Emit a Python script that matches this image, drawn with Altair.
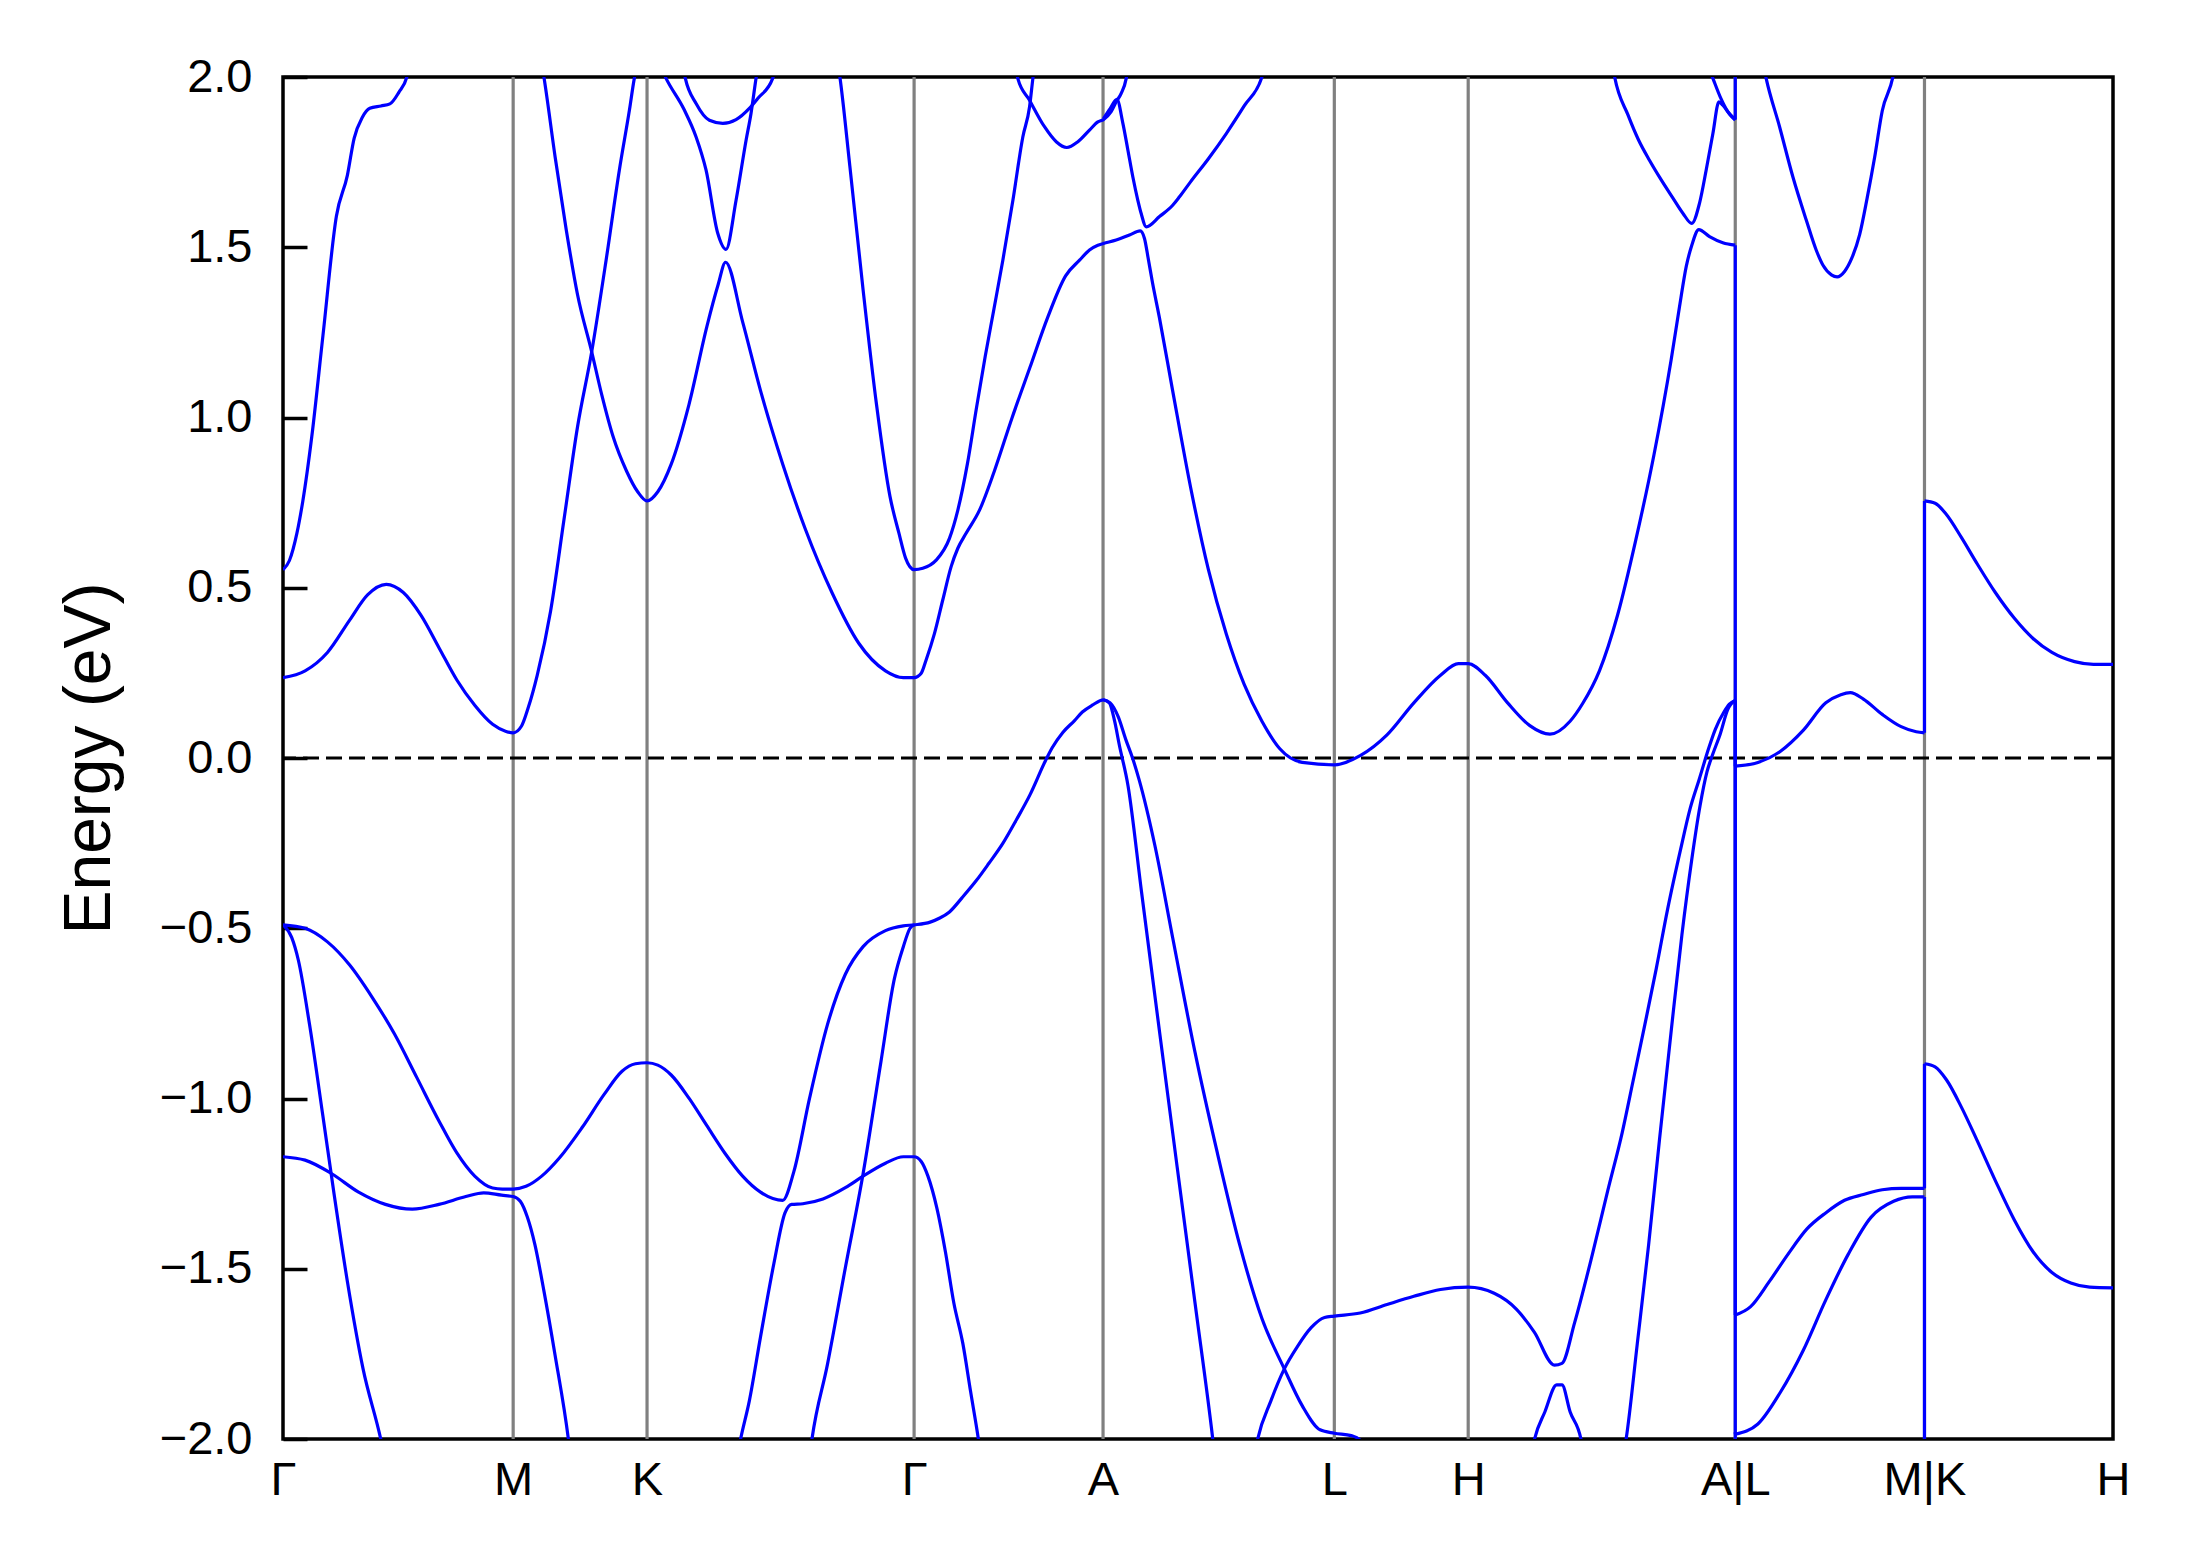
import altair as alt
import pandas as pd

# High-symmetry points along the k-path (path-length units) and their labels
kpts = [0, 164.7, 260.5, 451.6, 586.8, 752.3, 848.1, 1039.2, 1174.6, 1309.5]
klabels = ["Γ", "M", "K", "Γ", "A", "L", "H", "A|L", "M|K", "H"]
yticks = [-2.0, -1.5, -1.0, -0.5, 0.0, 0.5, 1.0, 1.5, 2.0]
fermi = [0.0]

# Band curves (k, E in eV)
band_c1 = [(0, 0.236), (15.8, 0.256), (31.8, 0.310), (47.7, 0.405), (60.5, 0.479), (73.9, 0.510),
           (86.1, 0.486), (98.9, 0.418), (111.6, 0.324), (124.4, 0.229), (137.2, 0.155), (150.0, 0.099),
           (159.6, 0.078), (164.7, 0.074), (170.7, 0.094), (175.5, 0.148), (181.9, 0.243), (191.5, 0.432),
           (201.1, 0.701), (210.7, 0.971), (220.9, 1.193), (231.2, 1.462), (240.7, 1.727), (247.9, 1.903),
           (251.4, 1.996), (256, 2.07), (260.5, 2.09), (266, 2.07), (274.1, 1.996), (287.2, 1.903),
           (295.6, 1.824), (302.7, 1.727), (311.1, 1.541), (317.0, 1.494), (324.2, 1.638), (331.4, 1.815),
           (334.9, 1.893), (338.5, 1.996), (345, 2.15), (370, 2.5), (392, 2.15), (398.5, 2.0),
           (405.6, 1.739), (415.1, 1.375), (424.7, 1.038), (434.3, 0.769), (440.7, 0.661), (445.5, 0.587),
           (451.6, 0.553), (457.8, 0.557), (467.4, 0.581), (476.9, 0.645), (482.9, 0.728), (489.7, 0.863),
           (496.1, 1.025), (502.5, 1.180), (508.8, 1.320), (515.1, 1.462), (522.3, 1.638), (529.4, 1.824),
           (534.2, 1.912), (536.6, 1.996), (540, 2.10)]

band_c2 = [(0, 0.553), (4.6, 0.580), (10.0, 0.661), (14.2, 0.755), (20.6, 0.944), (28.6, 1.241),
           (38.2, 1.591), (46.1, 1.712), (50.9, 1.820), (56.7, 1.881), (62.1, 1.908), (70.1, 1.915),
           (76.5, 1.921), (82.9, 1.955), (88.6, 2.0), (95, 2.15), (140, 2.5), (180, 2.15), (186.7, 2.0),
           (194.7, 1.766), (202.7, 1.551), (210.7, 1.362), (220.9, 1.193), (228.2, 1.065), (236.2, 0.944),
           (245.8, 0.843), (253.8, 0.782), (260.5, 0.755), (268.2, 0.782), (277.8, 0.863), (290.5, 1.038),
           (303.3, 1.267), (311.3, 1.389), (316.7, 1.456), (328.9, 1.281), (341.7, 1.079), (357.6, 0.863),
           (373.6, 0.674), (392.8, 0.486), (412.0, 0.337), (431.1, 0.256), (443.9, 0.236), (451.6, 0.236),
           (456.7, 0.249), (460.2, 0.288), (466.2, 0.366), (472.1, 0.464), (478.1, 0.562), (482.9, 0.616),
           (488.8, 0.660), (498.4, 0.728), (508.8, 0.840), (521.6, 0.998), (534.4, 1.146), (547.2, 1.294),
           (560.0, 1.416), (570.0, 1.462), (577.1, 1.492), (583.1, 1.506), (587.1, 1.511), (596.2, 1.521),
           (605.7, 1.536), (613.4, 1.548), (616.5, 1.525), (619.0, 1.470), (622.0, 1.400), (627.1, 1.294),
           (636.6, 1.079), (649.4, 0.796), (662.2, 0.553), (675.0, 0.364), (687.8, 0.216), (700.5, 0.108),
           (713.3, 0.027), (729.3, -0.013), (752.3, -0.020), (770.8, 0.007), (790.0, 0.068), (809.2, 0.162),
           (828.3, 0.243), (841.1, 0.277), (848.1, 0.277), (860.3, 0.243), (876.3, 0.162), (892.2, 0.095),
           (906.6, 0.070), (921.0, 0.108), (930.0, 0.160), (942.0, 0.256), (955.0, 0.420), (968.0, 0.640),
           (981.0, 0.890), (993.3, 1.169), (999.3, 1.325), (1004.1, 1.443), (1008.1, 1.506), (1013.1, 1.552),
           (1020.8, 1.531), (1030.3, 1.513), (1039.2, 1.506), (1039.2, -0.024), (1055.4, -0.013),
           (1071.6, 0.020), (1087.8, 0.081), (1104.0, 0.162), (1114.7, 0.186), (1121.5, 0.192),
           (1130.9, 0.173), (1144.4, 0.128), (1157.9, 0.092), (1168.7, 0.077), (1174.6, 0.074),
           (1174.6, 0.755), (1182.2, 0.748), (1190.3, 0.715), (1201.1, 0.647), (1211.9, 0.573),
           (1225.3, 0.486), (1238.8, 0.411), (1252.3, 0.351), (1265.8, 0.310), (1282.0, 0.283),
           (1295.5, 0.275), (1309.5, 0.275)]

band_bowl_k = [(284.5, 2.07), (287.9, 1.996), (295.6, 1.922), (305.1, 1.873), (314.7, 1.864), (324.2, 1.875),
               (333.7, 1.908), (339.7, 1.937), (350.4, 1.996), (354, 2.07)]

band_bowl_a = [(522, 2.07), (525.8, 1.996), (534.2, 1.932), (544.9, 1.854), (553.3, 1.810), (560.9, 1.793),
               (568.8, 1.810), (577.1, 1.844), (583.1, 1.868), (587.1, 1.875), (592.6, 1.898), (596.2, 1.927),
               (599.8, 1.952), (603.4, 1.996), (606, 2.07)]

band_desc_a = [(587.1, 1.878), (592.0, 1.908), (596.7, 1.934), (601.0, 1.864), (604.6, 1.785), (608.1, 1.707),
               (611.7, 1.638), (614.1, 1.599), (617.7, 1.560), (627.2, 1.590), (636.8, 1.624), (641.5, 1.648),
               (649.4, 1.692), (662.2, 1.760), (675.0, 1.834), (687.8, 1.915), (700.5, 2.0), (704, 2.05)]

band_ha_top = [(950, 2.07), (952.9, 2.0), (962.5, 1.888), (970.0, 1.815), (977.9, 1.755), (985.0, 1.706),
               (994.5, 1.645), (1001.7, 1.600), (1008.1, 1.570), (1013.6, 1.629), (1018.4, 1.727),
               (1023.2, 1.834), (1027.5, 1.927), (1030.3, 1.917), (1035.1, 1.891), (1039.2, 1.873)]

band_al_top = [(1020, 2.03), (1023.2, 1.996), (1028.9, 1.937), (1033.9, 1.898), (1039.2, 1.875), (1039.2, 2.6),
               (1061.3, 1.996), (1070.9, 1.854), (1080.4, 1.707), (1090.0, 1.580), (1097.1, 1.492),
               (1102.0, 1.447), (1108.0, 1.419), (1112.1, 1.413), (1117.4, 1.429), (1122.8, 1.470),
               (1128.2, 1.537), (1133.6, 1.645), (1139.0, 1.766), (1144.4, 1.901), (1152.0, 2.0), (1155, 2.07)]

band_v1 = [(0, -0.490), (15.8, -0.500), (31.8, -0.540), (47.7, -0.608), (63.7, -0.702), (79.7, -0.810),
           (95.7, -0.938), (111.6, -1.066), (124.4, -1.160), (137.2, -1.228), (150.0, -1.263), (157.0, -1.266),
           (164.7, -1.266), (173.9, -1.258), (185.1, -1.228), (197.9, -1.174), (213.9, -1.086), (229.8, -0.988),
           (242.6, -0.920), (252.2, -0.898), (260.5, -0.895), (268.2, -0.902), (277.8, -0.931), (290.5, -0.999),
           (303.3, -1.080), (316.1, -1.160), (328.9, -1.228), (341.7, -1.275), (357.6, -1.299), (365.6, -1.214),
           (376.8, -0.999), (389.6, -0.783), (402.4, -0.635), (415.1, -0.554), (431.1, -0.507), (443.9, -0.493),
           (451.6, -0.490), (463.1, -0.482), (470.0, -0.470), (476.9, -0.452), (486.0, -0.410), (496.1, -0.360),
           (505.0, -0.310), (515.2, -0.250), (525.0, -0.180), (534.4, -0.109), (545.6, -0.008), (550.4, 0.030),
           (558.0, 0.075), (566.4, 0.110), (572.0, 0.135), (579.1, 0.155), (587.1, 0.171), (591.3, 0.162),
           (595.1, 0.108), (598.3, 0.041), (604.7, -0.082), (614.3, -0.392), (627.1, -0.800), (639.8, -1.200),
           (652.6, -1.600), (665.4, -2.003), (667, -2.06)]

band_v2 = [(0, -1.171), (15.8, -1.181), (34.9, -1.221), (54.1, -1.275), (73.3, -1.311), (92.5, -1.325),
           (111.6, -1.311), (130.8, -1.288), (143.6, -1.277), (156.4, -1.284), (164.7, -1.288), (169.8, -1.302),
           (174.9, -1.349), (180.3, -1.430), (186.7, -1.565), (194.7, -1.754), (204.3, -2.003), (206, -2.06)]

band_v3 = [(0, -0.490), (6.2, -0.527), (11.0, -0.594), (19.0, -0.783), (28.6, -1.053), (36.6, -1.282),
           (46.1, -1.538), (57.3, -1.794), (70.1, -2.003), (71.5, -2.03)]

band_v4 = [(326, -2.03), (327.3, -2.003), (333.7, -1.888), (341.7, -1.700), (351.3, -1.484), (359.2, -1.336),
           (364.0, -1.311), (372.0, -1.309), (386.4, -1.295), (402.4, -1.262), (415.1, -1.228), (431.1, -1.190),
           (443.9, -1.171), (451.6, -1.171), (456.7, -1.185), (461.5, -1.228), (467.9, -1.322), (474.0, -1.450),
           (480.0, -1.600), (486.5, -1.720), (492.0, -1.860), (497.7, -2.003), (499, -2.04)]

band_v5 = [(377.5, -2.03), (378.4, -2.003), (389.6, -1.781), (402.4, -1.497), (415.1, -1.221), (427.9, -0.891),
           (437.5, -0.648), (443.9, -0.554), (448.7, -0.500), (451.6, -0.490)]

band_v6 = [(587.1, 0.171), (591.9, 0.162), (597.7, 0.121), (603.1, 0.054), (607.9, 0.000), (612.7, -0.065),
           (623.9, -0.257), (636.6, -0.527), (652.6, -0.864), (668.6, -1.160), (684.6, -1.430), (700.5, -1.646),
           (716.5, -1.794), (729.3, -1.902), (742.1, -1.973), (752.3, -1.983), (764.4, -1.990), (770.8, -2.003),
           (775, -2.04)]

band_v7 = [(695.5, -2.04), (697.3, -2.003), (706.9, -1.888), (716.5, -1.794), (726.1, -1.727), (735.7, -1.673),
           (745.3, -1.643), (752.3, -1.639), (770.8, -1.630), (790.0, -1.605), (809.2, -1.581), (828.3, -1.561),
           (848.1, -1.554), (866.7, -1.572), (882.7, -1.619), (895.4, -1.686), (909.8, -1.783), (915.2, -1.778),
           (924.2, -1.659), (937.0, -1.457), (948.0, -1.270), (958.3, -1.100), (966.0, -0.950), (974.5, -0.783),
           (982.6, -0.620), (990.7, -0.446), (1000.0, -0.270), (1006.8, -0.150), (1013.6, -0.060),
           (1020.3, 0.030), (1025.0, 0.085), (1031.1, 0.135), (1035.0, 0.158), (1039.2, 0.169),
           (1039.2, -1.636), (1050.0, -1.612), (1063.5, -1.538), (1077.0, -1.457), (1090.5, -1.383),
           (1103.9, -1.336), (1117.4, -1.299), (1130.9, -1.282), (1144.4, -1.268), (1157.9, -1.264),
           (1174.6, -1.264), (1174.6, -0.898), (1182.2, -0.907), (1190.3, -0.945), (1201.1, -1.026),
           (1211.9, -1.120), (1225.3, -1.241), (1238.8, -1.356), (1252.3, -1.450), (1265.8, -1.511),
           (1279.3, -1.542), (1292.8, -1.554), (1309.5, -1.556)]

band_v8 = [(959.5, -2.04), (961.0, -2.003), (969.1, -1.720), (977.2, -1.430), (985.0, -1.120), (993.4, -0.800),
           (1001.0, -0.520), (1008.0, -0.300), (1014.0, -0.140), (1019.0, -0.040), (1023.0, 0.010),
           (1028.4, 0.070), (1033.8, 0.142), (1038.7, 0.168), (1039.2, 0.169), (1039.2, -1.986),
           (1055.4, -1.956), (1071.6, -1.862), (1087.8, -1.740), (1103.9, -1.592), (1120.1, -1.457),
           (1136.3, -1.349), (1152.5, -1.302), (1166.0, -1.289), (1174.6, -1.289), (1174.6, -2.2)]

band_v9 = [(894, -2.03), (895.4, -2.003), (903.0, -1.920), (911.4, -1.841), (915.2, -1.841), (921.0, -1.920),
           (928.9, -2.003), (930, -2.03)]

band_v10 = [(1039.2, -2.2), (1039.2, -1.98)]

named = [("c1", band_c1), ("c2", band_c2), ("bk", band_bowl_k), ("ba", band_bowl_a), ("da", band_desc_a),
         ("hat", band_ha_top), ("alt", band_al_top), ("v1", band_v1), ("v2", band_v2), ("v3", band_v3),
         ("v4", band_v4), ("v5", band_v5), ("v6", band_v6), ("v7", band_v7), ("v8", band_v8),
         ("v9", band_v9), ("v10", band_v10)]

# Split every band at path discontinuities (same k twice): smooth pieces + vertical jumps
rows = []
for name, pts in named:
    pieces = []
    cur = [pts[0]]
    for p in pts[1:]:
        if p[0] == cur[-1][0]:
            if len(cur) > 1:
                pieces.append(cur)
            pieces.append([cur[-1], p])
            cur = [p]
        else:
            cur.append(p)
    if len(cur) > 1:
        pieces.append(cur)
    for j, piece in enumerate(pieces):
        for i, (k, e) in enumerate(piece):
            rows.append({"path": f"{name}_{j}", "i": i, "k": k, "E": e})
df = pd.DataFrame(rows)

df_k = pd.DataFrame({"k": kpts[1:-1]})
df_zero = pd.DataFrame({"E": fermi})

# label expression mapping tick positions to symbols
expr = "'" + klabels[-1] + "'"
for idx in range(len(kpts) - 2, -1, -1):
    mid = (kpts[idx] + kpts[idx + 1]) / 2
    expr = f"datum.value < {mid:.2f} ? '{klabels[idx]}' : ({expr})"

xs = alt.Scale(domain=[kpts[0], kpts[-1]], nice=False, zero=False)
ys = alt.Scale(domain=[-2, 2], nice=False, zero=False)

TICK = 24
x_enc = alt.X("k:Q", scale=xs, title="",
              axis=alt.Axis(values=kpts, labelExpr=expr, labelPadding=18, labelFlush=False,
                            labelOverlap=False, ticks=False, domain=False, grid=False))
# inward ticks: axis line moved inside by TICK px, ticks pointing out by TICK px
y_enc = alt.Y("E:Q", scale=ys, title="Energy (eV)",
              axis=alt.Axis(values=yticks, format=".1f", offset=-TICK, tickSize=TICK, tickWidth=3.5,
                            tickColor="black", labelPadding=31, titlePadding=36,
                            ticks=True, domain=False, grid=False))

vlines = alt.Chart(df_k).mark_rule(color="#808080", strokeWidth=3.2).encode(x=x_enc)
zero = alt.Chart(df_zero).mark_rule(color="black", strokeWidth=3.2, strokeDash=[16, 7]).encode(y=y_enc)
bands = alt.Chart(df).mark_line(color="#0000ff", strokeWidth=3.2, clip=True, strokeJoin="round",
                                interpolate="monotone").encode(
    x=x_enc, y=y_enc, detail="path:N", order="i:Q")

chart = alt.layer(vlines, zero, bands).properties(
    width=1830, height=1362,
    padding={"left": 275, "top": 69, "right": 60, "bottom": 100},
    autosize=alt.AutoSizeParams(type="none"),
).configure_view(stroke="black", strokeWidth=3.5).configure_axis(
    labelFont="Liberation Sans", labelFontSize=47, labelColor="black",
    titleFont="Liberation Sans", titleFontSize=66, titleFontWeight="normal", titleColor="black",
)

chart.save("out.html", embed_options={"renderer": "svg", "actions": False})
